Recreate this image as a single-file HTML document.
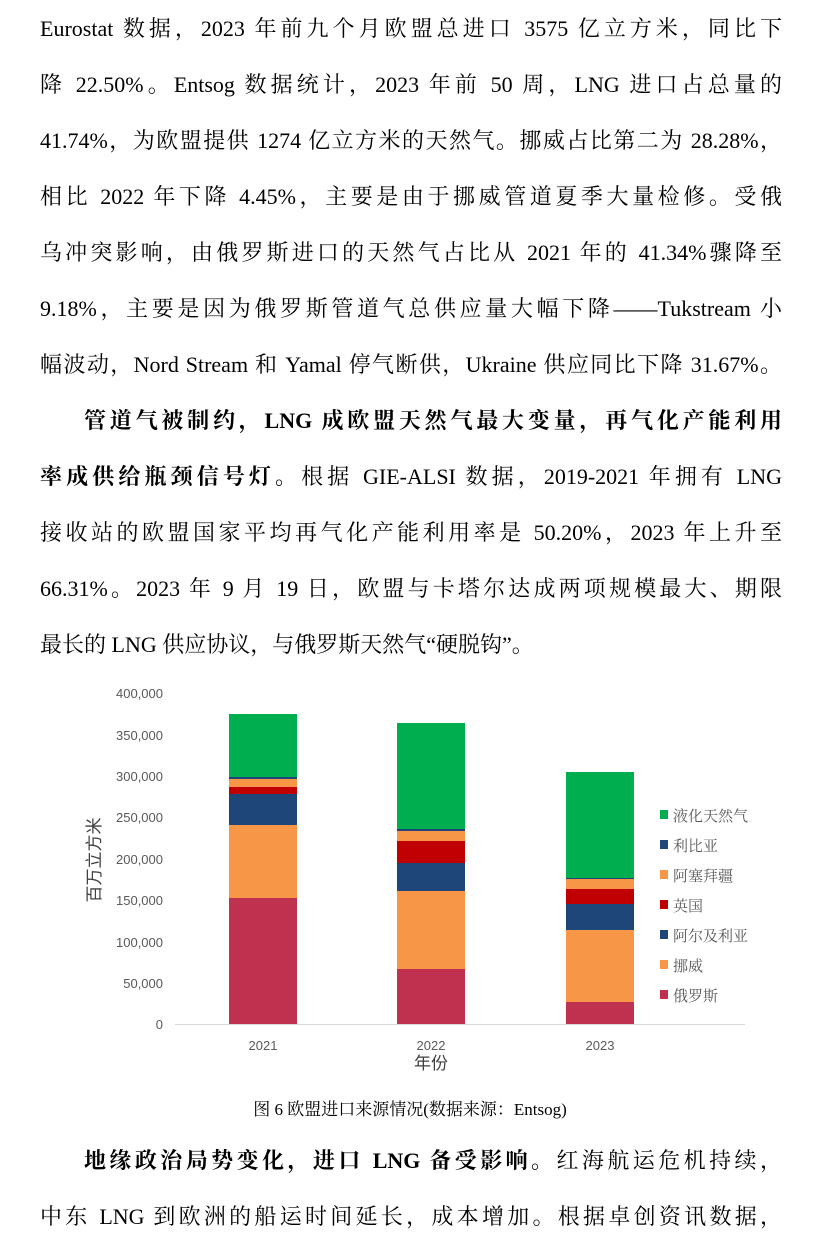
<!DOCTYPE html>
<html><head><meta charset="utf-8"><style>
body{margin:0;width:820px;height:1245px;background:#fff;overflow:hidden;position:relative;font-family:"Liberation Serif","Noto Serif CJK SC",serif;color:#000}
.l{position:absolute;left:40px;width:742px;font-size:22px;line-height:30px;white-space:nowrap;text-align:justify;text-align-last:justify}
.nl{text-align-last:left}
b{font-weight:bold}
</style></head><body>
<div class="l" style="top:14px">Eurostat 数据，2023 年前九个月欧盟总进口 3575 亿立方米，同比下</div>
<div class="l" style="top:70px">降 22.50%。Entsog 数据统计，2023 年前 50 周，LNG 进口占总量的</div>
<div class="l" style="top:126px">41.74%，为欧盟提供 1274 亿立方米的天然气。挪威占比第二为 28.28%，</div>
<div class="l" style="top:182px">相比 2022 年下降 4.45%，主要是由于挪威管道夏季大量检修。受俄</div>
<div class="l" style="top:238px">乌冲突影响，由俄罗斯进口的天然气占比从 2021 年的 41.34%骤降至</div>
<div class="l" style="top:294px">9.18%，主要是因为俄罗斯管道气总供应量大幅下降——Tukstream 小</div>
<div class="l" style="top:350px">幅波动，Nord Stream 和 Yamal 停气断供，Ukraine 供应同比下降 31.67%。</div>
<div class="l" style="top:406px;left:84px;width:698px"><b>管道气被制约，LNG 成欧盟天然气最大变量，再气化产能利用</b></div>
<div class="l" style="top:462px"><b>率成供给瓶颈信号灯。</b>根据 GIE-ALSI 数据，2019-2021 年拥有 LNG</div>
<div class="l" style="top:518px">接收站的欧盟国家平均再气化产能利用率是 50.20%，2023 年上升至</div>
<div class="l" style="top:574px">66.31%。2023 年 9 月 19 日，欧盟与卡塔尔达成两项规模最大、期限</div>
<div class="l nl" style="top:630px">最长的 LNG 供应协议，与俄罗斯天然气“硬脱钩”。</div>

<svg style="position:absolute;left:0;top:0" width="820" height="1245">
<g font-family="Liberation Sans, sans-serif" font-size="13" fill="#595959" text-anchor="end">
<text x="163" y="698">400,000</text><text x="163" y="740">350,000</text><text x="163" y="781">300,000</text><text x="163" y="822">250,000</text><text x="163" y="864">200,000</text><text x="163" y="905">150,000</text><text x="163" y="947">100,000</text><text x="163" y="988">50,000</text><text x="163" y="1029">0</text>
</g>
<line x1="175" y1="1024.5" x2="745" y2="1024.5" stroke="#d9d9d9" stroke-width="1"/>
<g>
<rect x="229" y="714" width="68" height="63" fill="#00ae4f"/>
<rect x="229" y="777" width="68" height="2" fill="#1f4679"/>
<rect x="229" y="779" width="68" height="8" fill="#f79646"/>
<rect x="229" y="787" width="68" height="7" fill="#c00000"/>
<rect x="229" y="794" width="68" height="31" fill="#1f4679"/>
<rect x="229" y="825" width="68" height="73" fill="#f79646"/>
<rect x="229" y="898" width="68" height="126" fill="#c0304f"/>

<rect x="397" y="723" width="68" height="106" fill="#00ae4f"/>
<rect x="397" y="829" width="68" height="2" fill="#1f4679"/>
<rect x="397" y="831" width="68" height="10" fill="#f79646"/>
<rect x="397" y="841" width="68" height="22" fill="#c00000"/>
<rect x="397" y="863" width="68" height="28" fill="#1f4679"/>
<rect x="397" y="891" width="68" height="78" fill="#f79646"/>
<rect x="397" y="969" width="68" height="55" fill="#c0304f"/>

<rect x="566" y="772" width="68" height="106" fill="#00ae4f"/>
<rect x="566" y="878" width="68" height="1.5" fill="#1f4679"/>
<rect x="566" y="879" width="68" height="10" fill="#f79646"/>
<rect x="566" y="889" width="68" height="15" fill="#c00000"/>
<rect x="566" y="904" width="68" height="26" fill="#1f4679"/>
<rect x="566" y="930" width="68" height="72" fill="#f79646"/>
<rect x="566" y="1002" width="68" height="22" fill="#c0304f"/>
</g>
<g font-family="Liberation Sans, sans-serif" font-size="13" fill="#595959" text-anchor="middle">
<text x="263" y="1050">2021</text><text x="431" y="1050">2022</text><text x="600" y="1050">2023</text>
</g>
<text x="431" y="1069" font-family="Liberation Sans, Noto Sans CJK SC, sans-serif" font-size="17" fill="#404040" text-anchor="middle">年份</text>
<text transform="translate(100,860) rotate(-90)" font-family="Liberation Sans, Noto Sans CJK SC, sans-serif" font-size="17" fill="#404040" text-anchor="middle">百万立方米</text>
<g font-family="Liberation Serif, Noto Serif CJK SC, serif" font-size="15" fill="#595959">
<rect x="660" y="810" width="8" height="9" fill="#00ae4f"/><text x="673" y="821">液化天然气</text>
<rect x="660" y="840" width="8" height="9" fill="#1f4679"/><text x="673" y="851">利比亚</text>
<rect x="660" y="870" width="8" height="9" fill="#f79646"/><text x="673" y="881">阿塞拜疆</text>
<rect x="660" y="900" width="8" height="9" fill="#c00000"/><text x="673" y="911">英国</text>
<rect x="660" y="930" width="8" height="9" fill="#1f4679"/><text x="673" y="941">阿尔及利亚</text>
<rect x="660" y="960" width="8" height="9" fill="#f79646"/><text x="673" y="971">挪威</text>
<rect x="660" y="990" width="8" height="9" fill="#c0304f"/><text x="673" y="1001">俄罗斯</text>
</g>
</svg>
<div style="position:absolute;left:0;width:820px;top:1098px;text-align:center;font-size:17px;line-height:24px">图 6 欧盟进口来源情况(数据来源：Entsog)</div>
<div class="l" style="top:1146px;left:84px;width:698px"><b>地缘政治局势变化，进口 LNG 备受影响。</b>红海航运危机持续，</div>
<div class="l" style="top:1202px">中东 LNG 到欧洲的船运时间延长，成本增加。根据卓创资讯数据，</div>
</body></html>
